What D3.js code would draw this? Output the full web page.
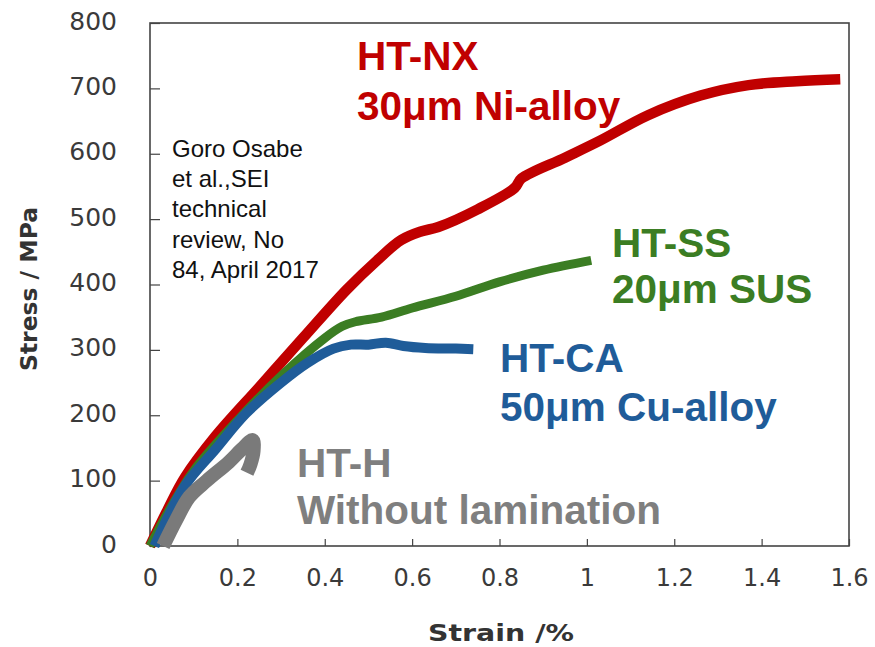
<!DOCTYPE html>
<html><head><meta charset="utf-8">
<script src="https://cdn.jsdelivr.net/npm/d3@7"></script>
<style>body{margin:0;background:#fff}</style>
</head><body>
<svg id="c" width="875" height="647"></svg>
<script>
// ---- data (strain %, stress MPa) ----
const htNX = [[0,0],[0.04,55],[0.08,105],[0.15,168],[0.25,243],[0.35,318],[0.45,392],[0.52,437],[0.575,468],[0.62,481],[0.66,488],[0.75,515],[0.835,548],[0.85,562],[0.95,594],[1.03,620],[1.14,659],[1.26,689],[1.37,705],[1.48,711],[1.58,714]];
const htSS = [[0,0],[0.05,62],[0.1,115],[0.2,192],[0.3,260],[0.4,318],[0.44,336],[0.47,343],[0.53,350],[0.6,364],[0.7,382],[0.8,404],[0.9,422],[1.01,437]];
const htCA = [[0.01,0],[0.08,92],[0.15,148],[0.22,203],[0.3,250],[0.36,280],[0.42,302],[0.46,308],[0.5,308],[0.54,311],[0.58,306],[0.63,303],[0.7,302],[0.74,301]];
const htH  = [[0.03,0],[0.06,40],[0.09,75],[0.13,100],[0.18,128],[0.21,148],[0.235,162],[0.237,145],[0.23,125],[0.222,112]];
const xTicks = [0,0.2,0.4,0.6,0.8,1,1.2,1.4,1.6];
const yTicks = [0,100,200,300,400,500,600,700,800];
const seriesNames = ["HT-NX","HT-SS","HT-CA","HT-H"];
const seriesSub = ["30μm Ni-alloy","20μm SUS","50μm Cu-alloy","Without lamination"];
const noteLines = ["Goro Osabe","et al.,SEI","technical","review, No","84, April 2017"];
const xTitle = "Strain /%";
const yTitle = "Stress / MPa";

const svg = d3.select("#c");
const x = d3.scaleLinear().domain([0,1.6]).range([150,849]);
const y = d3.scaleLinear().domain([0,800]).range([546,23]);

// frame
svg.append("rect").attr("x",x(0)).attr("y",y(800)).attr("width",x(1.6)-x(0)).attr("height",y(0)-y(800))
  .attr("fill","none").attr("stroke","#444").attr("stroke-width",1.6);

// axes (inward ticks)
const gx = svg.append("g").attr("transform",`translate(0,${y(0)})`)
  .call(d3.axisBottom(x).tickValues(xTicks).tickSizeInner(-7).tickSizeOuter(0).tickFormat(d=>String(d)));
gx.select(".domain").remove();
gx.selectAll("line").attr("stroke","#444").attr("stroke-width",1.2);
gx.selectAll("text").attr("y",40).attr("dy",0).attr("font-family","DejaVu Sans").attr("font-size",24).attr("fill","#3a3a3a");

const gy = svg.append("g").attr("transform",`translate(${x(0)},0)`)
  .call(d3.axisLeft(y).tickValues(yTicks).tickSizeInner(-10).tickSizeOuter(0));
gy.select(".domain").remove();
gy.selectAll("line").attr("stroke","#444").attr("stroke-width",1.2);
gy.selectAll("text").attr("x",-33).attr("dy",0).attr("y",6).attr("font-family","DejaVu Sans").attr("font-size",25).attr("fill","#3a3a3a");

// axis titles
svg.append("text").attr("x",428).attr("y",641).attr("textLength",146).attr("lengthAdjust","spacingAndGlyphs")
  .attr("font-family","DejaVu Sans").attr("font-weight","bold").attr("font-size",23).attr("fill","#333").text(xTitle);
svg.append("text").attr("transform","translate(37,289) rotate(-90)").attr("text-anchor","middle")
  .attr("textLength",164).attr("lengthAdjust","spacingAndGlyphs")
  .attr("font-family","DejaVu Sans").attr("font-weight","bold").attr("font-size",23).attr("fill","#333").text(yTitle);

// curves
const line = d3.line().x(d=>x(d[0])).y(d=>y(d[1])).curve(d3.curveCatmullRom.alpha(0.5));
const curves = [
  {d:htNX,c:"#C00000",w:10.5},
  {d:htSS,c:"#3B7D23",w:9},
  {d:htCA,c:"#1F5C99",w:10},
  {d:htH,c:"#7A7A7A",w:14}
];
curves.forEach(s=>{
  svg.append("path").attr("d",line(s.d)).attr("fill","none").attr("stroke",s.c)
    .attr("stroke-width",s.w).attr("stroke-linejoin","round").attr("stroke-linecap","butt");
});

// series labels
const labelPos = [[357,70,120],[612,257,303],[500,372,421],[297,477,524]];
const labelCol = ["#C00000","#3B7D23","#1F5C99","#7F7F7F"];
seriesNames.forEach((n,i)=>{
  const [lx,ly1,ly2] = labelPos[i];
  const t = svg.append("text").attr("font-family","Liberation Sans, Arial, sans-serif").attr("font-weight","bold")
    .attr("font-size",40.5).attr("fill",labelCol[i]);
  t.append("tspan").attr("x",lx).attr("y",ly1).text(n);
  t.append("tspan").attr("x",lx).attr("y",ly2).text(seriesSub[i]);
});

// reference note
const note = svg.append("text").attr("font-family","Liberation Sans, Arial, sans-serif").attr("font-size",24).attr("fill","#111");
noteLines.forEach((l,i)=>note.append("tspan").attr("x",172).attr("y",157+i*30.2).text(l));
</script>
</body></html>
